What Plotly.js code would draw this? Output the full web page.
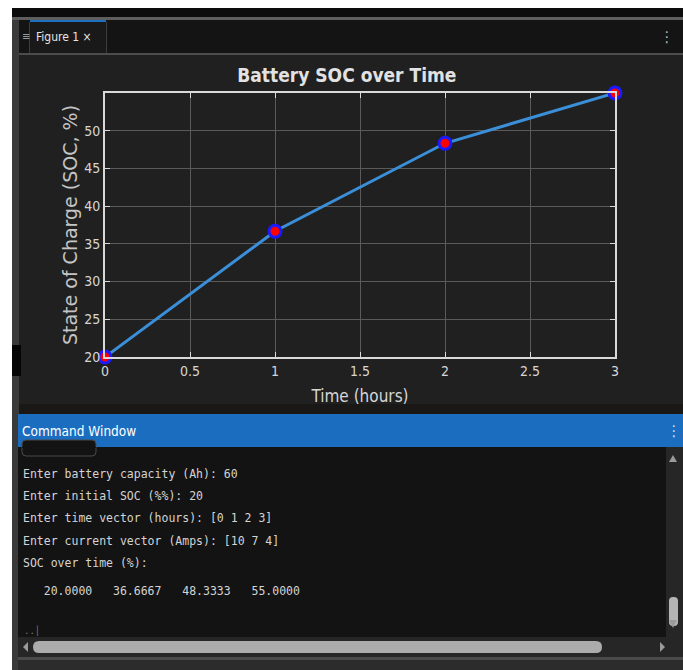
<!DOCTYPE html>
<html>
<head>
<meta charset="utf-8">
<script src="https://cdn.plot.ly/plotly-3.0.1.min.js"></script>
<style>
html,body{margin:0;padding:0;background:#ffffff;}
#chart{width:683px;height:670px;}
</style>
</head>
<body>
<div id="chart"></div>
<script>
// ---- data ----
var timeHours = [0, 1, 2, 3];
var socPercent = [20.0000, 36.6667, 48.3333, 55.0000];
var xTickVals = [0, 0.5, 1, 1.5, 2, 2.5, 3];
var xTickText = ["0", "0.5", "1", "1.5", "2", "2.5", "3"];
var yTickVals = [20, 25, 30, 35, 40, 45, 50];
var yTickText = ["20", "25", "30", "35", "40", "45", "50"];
var consoleLines = [
  "Enter battery capacity (Ah): 60",
  "Enter initial SOC (%%): 20",
  "Enter time vector (hours): [0 1 2 3]",
  "Enter current vector (Amps): [10 7 4]",
  "SOC over time (%):"
];
var chartTitle = "Battery SOC over Time";
var xTitle = "Time (hours)";
var yTitle = "State of Charge (SOC, %)";
var tabLabel = "Figure 1 \u00d7";
var panelLabel = "Command Window";

// ---- layout geometry (pixels) ----
var W = 683, H = 670;
var M = {l: 105, r: 68, t: 93, b: 313};
var PW = W - M.l - M.r, PH = H - M.t - M.b;
function px(x){ return (x - M.l) / PW; }
function py(y){ return (H - M.b - y) / PH; }

var shapes = [];
function rect(x0, y0, x1, y1, fill, line, lw){
  shapes.push({type:'rect', xref:'paper', yref:'paper', layer:'below',
    x0:px(x0), x1:px(x1), y0:py(y1), y1:py(y0),
    fillcolor:fill, line:{width:lw||0, color:line||'rgba(0,0,0,0)'}});
}
function tri(pts, fill){
  var d = 'M' + pts.map(function(p){return px(p[0]) + ',' + py(p[1]);}).join('L') + 'Z';
  shapes.push({type:'path', xref:'paper', yref:'paper', layer:'below', path:d,
    fillcolor:fill, line:{width:0}});
}
function rrect(x0, y0, x1, y1, r, fill, line, lw){
  var P = function(x,y){return px(x)+','+py(y);};
  var d = 'M'+P(x0+r,y0)+'L'+P(x1-r,y0)+'Q'+P(x1,y0)+' '+P(x1,y0+r)+'L'+P(x1,y1-r)+'Q'+P(x1,y1)+' '+P(x1-r,y1)+
          'L'+P(x0+r,y1)+'Q'+P(x0,y1)+' '+P(x0,y1-r)+'L'+P(x0,y0+r)+'Q'+P(x0,y0)+' '+P(x0+r,y0)+'Z';
  shapes.push({type:'path', xref:'paper', yref:'paper', layer:'below', path:d,
    fillcolor:fill, line:{width:lw||0, color:line||'rgba(0,0,0,0)'}});
}

// top chrome
rect(12, 8, W, 17, '#0c0c0c');
rect(12, 17, W, 20, '#5e5e5e');
rect(12, 20, W, 53, '#141414');
rect(30, 20, 106, 53, '#191919');
rect(30, 20, 106, 22, '#1f6fc0');
rect(29, 22, 30, 53, '#3c3c3c');
rect(106, 22, 107, 53, '#3c3c3c');
rect(12, 53, W, 55, '#4c4c4c');
// figure area
rect(12, 55, W, 414, '#202020');
rect(12, 404, W, 414, '#1a1816');
// left strip
rect(12, 20, 19, H, '#3a3a3a');
rect(12, 345, 21, 376, '#050505');
// command window header
rect(18, 414, W, 447, '#1b6ebf');
// text area
rect(18, 447, W, 637, '#131313');
rrect(22, 440, 96, 456, 4, '#131313', '#4a4a4a', 1);
rect(22, 447, 96, 448, '#131313');
// vertical scrollbar
rect(666, 447, W, 637, '#262626');
rrect(669, 597, 678, 626, 4, '#b4b4b4');
tri([[669,462],[677,462],[673,455]], '#9a9a9a');
tri([[669,620],[677,620],[673,628]], '#9a9a9a');
// horizontal scrollbar
rect(18, 637, W, 657, '#262626');
rrect(33, 641, 602, 653, 6, '#acacac');
tri([[28,642],[28,652],[23,647]], '#9a9a9a');
tri([[660,642],[660,652],[665,647]], '#9a9a9a');
rect(18, 657, W, 660, '#4a4a4a');
rect(18, 660, W, H, '#2c2c2c');
// white page margins
rect(0, 0, 12, H, '#ffffff');
rect(0, 0, W, 8, '#ffffff');

var annotations = [];
function txt(x, y, s, size, color, family, anchor){
  annotations.push({xref:'paper', yref:'paper', x:px(x), y:py(y), text:s, showarrow:false,
    xanchor:anchor||'left', yanchor:'middle',
    font:{size:size, color:color, family:family}});
}
var narrow = '"Liberation Sans Narrow", "DejaVu Sans Condensed", "Liberation Sans", Arial, sans-serif';
var mono = '"DejaVu Sans Mono", "Liberation Mono", monospace';
txt(20, 37, '\u2261', 11, '#9a9a9a', narrow);
txt(34, 37, tabLabel, 12, '#e6e6e6', narrow);
txt(658, 37, '\u22ee', 15, '#bdbdbd', narrow);
txt(20, 431, panelLabel, 13.5, '#ffffff', narrow);
txt(665, 431, '\u22ee', 15, '#d8e6f6', narrow);
var lineY = [474, 496, 518, 541, 563];
for (var i = 0; i < consoleLines.length; i++){
  txt(21, lineY[i], consoleLines[i], 11.5, '#d4d4d4', mono);
}
var valueLine = '   ' + socPercent.map(function(v){return v.toFixed(4);}).join('   ');
txt(21, 591, valueLine, 11.5, '#d4d4d4', mono);
txt(22, 631, '..\u2502', 9, '#7a7a7a', mono);

var trace = {
  x: timeHours, y: socPercent, type:'scatter', mode:'lines+markers',
  line:{color:'#3b8fd9', width:3},
  marker:{size:12, color:'#ff0000', line:{color:'#1a1aff', width:3}},
  cliponaxis:false, showlegend:false, hoverinfo:'x+y'
};

var axisCommon = {
  showline:true, linecolor:'#d9d9d9', linewidth:2, mirror:'ticks',
  ticks:'inside', ticklen:5, tickcolor:'#d9d9d9', tickwidth:1,
  showgrid:true, gridcolor:'#5a5a5a', gridwidth:1, zeroline:false,
  tickfont:{size:14, color:'#d6d6d6', family:narrow}
};

var layout = {
  width:W, height:H, margin:M, autosize:false,
  paper_bgcolor:'#ffffff', plot_bgcolor:'#121212',
  title:{text:'<b>' + chartTitle + '</b>', x:px(364), xanchor:'center', y:1 - 75/H, yanchor:'middle',
    font:{size:19, color:'#e2e2e2', family:narrow}},
  xaxis:Object.assign({}, axisCommon, {range:[0,3], tickvals:xTickVals, ticktext:xTickText,
    title:{text:xTitle, font:{size:17, color:'#d6d6d6', family:narrow}, standoff:12}}),
  yaxis:Object.assign({}, axisCommon, {range:[20,55], tickvals:yTickVals, ticktext:yTickText,
    title:{text:yTitle, font:{size:19, color:'#c4c4c4', family:'"DejaVu Sans", sans-serif'}, standoff:2}}),
  shapes:shapes, annotations:annotations
};

Plotly.newPlot('chart', [trace], layout, {displayModeBar:false, staticPlot:true});
</script>
</body>
</html>
